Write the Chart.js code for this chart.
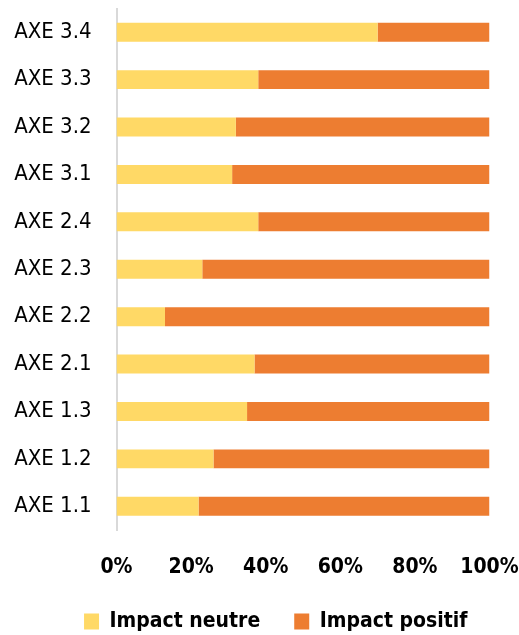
<!DOCTYPE html>
<html>
<head>
<meta charset="utf-8">
<script src="https://cdn.jsdelivr.net/npm/chart.js@4/dist/chart.umd.min.js"></script>
<style>
  html, body { margin: 0; padding: 0; background: #fff; }
  #wrap { width: 519px; height: 635px; }
</style>
</head>
<body>
<div id="wrap"><canvas id="axeChart" width="519" height="635"></canvas></div>
<script>
var axes = ['AXE 3.4', 'AXE 3.3', 'AXE 3.2', 'AXE 3.1', 'AXE 2.4', 'AXE 2.3', 'AXE 2.2', 'AXE 2.1', 'AXE 1.3', 'AXE 1.2', 'AXE 1.1'];
var impactNeutre = [70, 38, 32, 31, 38, 23, 13, 37, 35, 26, 22];
var impactPositif = [30, 62, 68, 69, 62, 77, 87, 63, 65, 74, 78];
var xTicks = [0, 20, 40, 60, 80, 100];

var fontName = "'DejaVu Sans Condensed', 'DejaVu Sans', sans-serif";
Chart.defaults.font.family = fontName;
Chart.defaults.color = '#000';

// the legend in the original sits a bit right of centre
var legendShift = {
    id: 'legendShift',
    afterLayout: function(chart) {
        chart.legend.left += 25;
        chart.legend.right += 25;
    }
};

var ctx = document.getElementById('axeChart').getContext('2d');
var axeChart = new Chart(ctx, {
    type: 'bar',
    data: {
        labels: axes,
        datasets: [
            {
                label: 'Impact neutre',
                data: impactNeutre,
                backgroundColor: '#FFD966',
                barPercentage: 0.4,
                categoryPercentage: 1
            },
            {
                label: 'Impact positif',
                data: impactPositif,
                backgroundColor: '#ED7D31',
                barPercentage: 0.4,
                categoryPercentage: 1
            }
        ]
    },
    plugins: [legendShift],
    options: {
        indexAxis: 'y',
        responsive: false,
        animation: false,
        layout: {
            padding: { top: 8.5, left: 12, right: 29.5, bottom: -7 }
        },
        scales: {
            x: {
                stacked: true,
                min: 0,
                max: 100,
                afterBuildTicks: function(s) {
                    s.ticks = xTicks.map(function(v) { return { value: v }; });
                },
                afterFit: function(s) {
                    s.height = 47;
                    s.paddingLeft = 0;
                    s.paddingRight = 0;
                },
                grid: { display: false, drawTicks: false },
                border: { display: false },
                ticks: {
                    padding: 24.5,
                    font: { size: 21, weight: 'bold' },
                    callback: function(v) { return v + '%'; }
                }
            },
            y: {
                stacked: true,
                afterFit: function(s) {
                    s.width = 104.5;
                    s.paddingTop = 0;
                    s.paddingBottom = 0;
                },
                grid: { display: false, drawTicks: false },
                border: { display: true, color: '#d9d9d9', width: 2 },
                ticks: {
                    padding: 25,
                    font: { size: 22 }
                }
            }
        },
        plugins: {
            legend: {
                position: 'bottom',
                labels: {
                    boxWidth: 15,
                    boxHeight: 16,
                    padding: 34,
                    font: { size: 21, weight: 'bold' }
                }
            },
            tooltip: { enabled: false }
        }
    }
});
</script>
</body>
</html>
